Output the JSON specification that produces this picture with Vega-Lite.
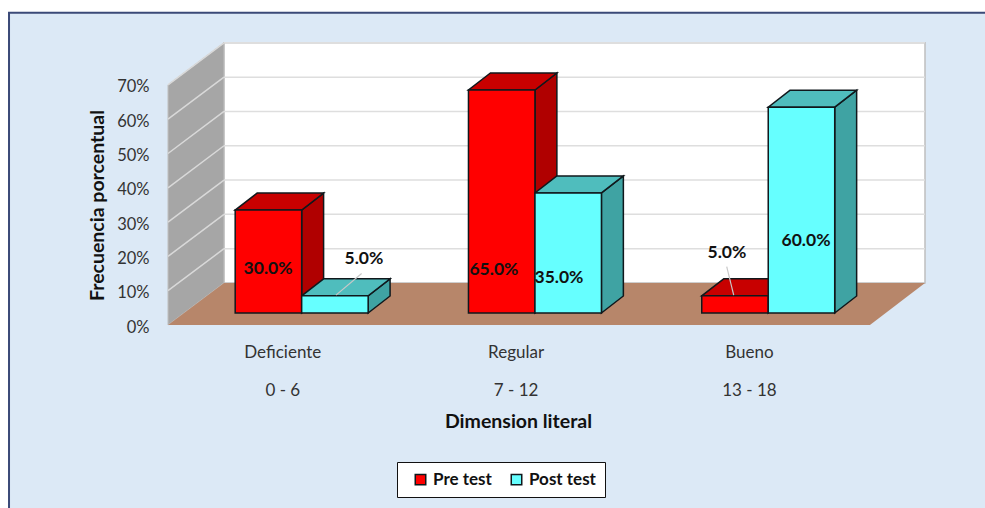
{
"$schema":"https://vega.github.io/schema/vega-lite/v6.json",
"width":757,"height":283,"autosize":"none",
"padding":{"left":168,"top":42,"right":60,"bottom":183},
"background":"#ffffff",
"datasets":{
"bars":[
{"categoria":"Deficiente","rango":"0 - 6","serie":"Pre test","valor":30},
{"categoria":"Regular","rango":"7 - 12","serie":"Pre test","valor":65},
{"categoria":"Bueno","rango":"13 - 18","serie":"Pre test","valor":5},
{"categoria":"Deficiente","rango":"0 - 6","serie":"Post test","valor":5},
{"categoria":"Regular","rango":"7 - 12","serie":"Post test","valor":35},
{"categoria":"Bueno","rango":"13 - 18","serie":"Post test","valor":60}
],
"ticks":[{"t":10},{"t":20},{"t":30},{"t":40},{"t":50},{"t":60},{"t":70}],
"one":[{"k":1}],
"ramp":[{"r":0},{"r":1}]
},
"layer":[
{"data":{"name":"one"},"mark":{"type":"rect","fill":"#DCE9F6","stroke":"#3B4A78","strokeWidth":2},
"encoding":{
"x":{"datum":-0.6815,"type":"quantitative","scale":{"domain":[0,3.245],"nice":false,"zero":false},
"axis":{"values":[0.49,1.49,2.49],"zindex":1,"domain":false,"ticks":false,"grid":false,"labelFont":"Lato","labelFontSize":17,"labelColor":"#333333","labelLineHeight":38,"labelPadding":19,"labelBaseline":"top",
"labelExpr":"datum.value<1?['Deficiente','0 - 6']:datum.value<2?['Regular','7 - 12']:['Bueno','13 - 18']",
"title":"Dimension literal","titleFont":"Lato","titleFontSize":19.5,"titleFontWeight":"bold","titleColor":"#111111","titleY":87,"titleX":350}},
"x2":{"datum":3.7},
"y":{"datum":-60,"type":"quantitative","scale":{"domain":[0,82.5],"nice":false,"zero":false},
"axis":{"values":[0,10,20,30,40,50,60,70],"zindex":1,"domain":false,"ticks":false,"grid":false,"labelFont":"Lato","labelFontSize":16.5,"labelColor":"#333333","labelPadding":19,"labelOffset":2,"labelExpr":"datum.value+'%'",
"title":"Frecuencia porcentual","titleFont":"Lato","titleFontSize":19.5,"titleFontWeight":"bold","titleColor":"#111111","titleX":-61,"titleY":163}},
"y2":{"datum":91}
}},
{"data":{"name":"one"},"mark":{"type":"rect","fill":"#ffffff","stroke":"#BFBFBF","strokeWidth":1.5},
"encoding":{"x":{"datum":0.24,"type":"quantitative"},"x2":{"datum":3.245},"y":{"datum":12.25,"type":"quantitative"},"y2":{"datum":82.25}}},
{"data":{"name":"ramp"},
"transform":[{"calculate":"0.24*datum.r","as":"xs"},{"calculate":"12.25*datum.r","as":"lo"},{"calculate":"70+12.25*datum.r","as":"hi"}],
"mark":{"type":"area","fill":"#A6A6A6","stroke":"#BFBFBF"},
"encoding":{"x":{"field":"xs","type":"quantitative"},"y":{"field":"lo","type":"quantitative"},"y2":{"field":"hi"}}},
{"data":{"name":"ticks"},
"transform":[{"calculate":"datum.t+12.25","as":"back"}],
"mark":{"type":"rule","stroke":"#D9D9D9","strokeWidth":1.5},
"encoding":{"x":{"datum":0,"type":"quantitative"},"x2":{"datum":0.24},"y":{"field":"t","type":"quantitative"},"y2":{"field":"back"}}},
{"data":{"name":"ticks"},
"transform":[{"calculate":"datum.t+12.25","as":"back"}],
"mark":{"type":"rule","stroke":"#DEDEDE","strokeWidth":1.5},
"encoding":{"x":{"datum":0.24,"type":"quantitative"},"x2":{"datum":3.245},"y":{"field":"back","type":"quantitative"}}},
{"data":{"name":"ramp"},
"transform":[{"calculate":"0.24*datum.r","as":"xa"},{"calculate":"3.009+0.236*datum.r","as":"xb"},{"calculate":"12.25*datum.r","as":"yy"}],
"mark":{"type":"area","orient":"horizontal","fill":"#B7866A"},
"encoding":{"y":{"field":"yy","type":"quantitative"},"x":{"field":"xa","type":"quantitative"},"x2":{"field":"xb"}}},
{"data":{"name":"bars"},
"transform":[
{"calculate":"indexof(['Deficiente','Regular','Bueno'],datum.categoria)+0.573-(datum.serie==='Pre test'?0.285:0)","as":"x0"},
{"calculate":"datum.serie+' lado'","as":"cara"},
{"calculate":"[0,1]","as":"r"},{"flatten":["r"]},
{"calculate":"datum.x0+0.285+0.094*datum.r","as":"xs"},
{"calculate":"3.5+4.96*datum.r","as":"lo"},
{"calculate":"3.5+datum.valor+4.96*datum.r","as":"hi"}],
"mark":{"type":"area","stroke":"#10181c","strokeWidth":1.5},
"encoding":{"x":{"field":"xs","type":"quantitative"},"y":{"field":"lo","type":"quantitative"},"y2":{"field":"hi"},"detail":{"field":"x0"},
"color":{"field":"cara","type":"nominal","scale":{"domain":["Pre test","Post test","Pre test lado","Post test lado","Pre test tapa","Post test tapa"],"range":["#FF0000","#66FFFF","#B00000","#3FA3A3","#C80000","#4FBDBD"]},
"legend":{"values":["Pre test","Post test"],"title":null,"orient":"none","direction":"horizontal","legendX":229,"legendY":420,"fillColor":"#ffffff","strokeColor":"#111111","padding":9,"symbolType":"square","symbolSize":110,"symbolStrokeColor":"#111111","symbolStrokeWidth":1.5,"symbolOpacity":1,"symbolOffset":6,"labelFont":"Lato","labelFontSize":17,"labelFontWeight":"bold","labelColor":"#111111","columnPadding":10,"labelOffset":4}}}},
{"data":{"name":"bars"},
"transform":[
{"calculate":"indexof(['Deficiente','Regular','Bueno'],datum.categoria)+0.573-(datum.serie==='Pre test'?0.285:0)","as":"x0"},
{"calculate":"datum.serie+' tapa'","as":"cara"},
{"calculate":"[0,1]","as":"r"},{"flatten":["r"]},
{"calculate":"datum.x0+0.094*datum.r","as":"xa"},
{"calculate":"datum.x0+0.285+0.094*datum.r","as":"xb"},
{"calculate":"3.5+datum.valor+4.96*datum.r","as":"yy"}],
"mark":{"type":"area","orient":"horizontal","stroke":"#10181c","strokeWidth":1.5},
"encoding":{"y":{"field":"yy","type":"quantitative"},"x":{"field":"xa","type":"quantitative"},"x2":{"field":"xb"},"detail":{"field":"x0"},
"color":{"field":"cara","type":"nominal"}}},
{"data":{"name":"bars"},
"transform":[
{"calculate":"indexof(['Deficiente','Regular','Bueno'],datum.categoria)+0.573-(datum.serie==='Pre test'?0.285:0)","as":"x0"},
{"calculate":"datum.x0+0.285","as":"x1"},
{"calculate":"3.5+datum.valor","as":"top"},{"calculate":"3.5","as":"base"},
{"calculate":"datum.serie","as":"cara"}],
"mark":{"type":"rect","stroke":"#10181c","strokeWidth":1.5},
"encoding":{"x":{"field":"x0","type":"quantitative"},"x2":{"field":"x1"},"y":{"field":"base","type":"quantitative"},"y2":{"field":"top"},
"color":{"field":"cara","type":"nominal"}}},
{"data":{"name":"bars"},
"transform":[{"filter":"datum.valor===5"},
{"calculate":"datum.serie==='Post test'?0.83:2.395","as":"lx1"},
{"calculate":"datum.serie==='Post test'?0.72:2.425","as":"lx2"},
{"calculate":"datum.serie==='Post test'?15:17","as":"ly1"},
{"calculate":"datum.serie==='Post test'?8.7:8.7","as":"ly2"}],
"mark":{"type":"rule","stroke":"#C8C8C8","strokeWidth":1.2},
"encoding":{"x":{"field":"lx1","type":"quantitative"},"x2":{"field":"lx2"},"y":{"field":"ly1","type":"quantitative"},"y2":{"field":"ly2"}}},
{"data":{"name":"bars"},
"transform":[
{"calculate":"datum.categoria+'|'+datum.serie","as":"k"},
{"calculate":"{'Deficiente|Pre test':0.429,'Deficiente|Post test':0.84,'Regular|Pre test':1.397,'Regular|Post test':1.676,'Bueno|Pre test':2.396,'Bueno|Post test':2.735}[datum.k]","as":"lx"},
{"calculate":"{'Deficiente|Pre test':16.3,'Deficiente|Post test':19.2,'Regular|Pre test':16,'Regular|Post test':13.7,'Bueno|Pre test':21,'Bueno|Post test':24.5}[datum.k]","as":"ly"},
{"calculate":"format(datum.valor,'.1f')+'%'","as":"txt"}],
"mark":{"type":"text","font":"Lato","fontSize":17.5,"fontWeight":"bold","fill":"#111111"},
"encoding":{"x":{"field":"lx","type":"quantitative"},"y":{"field":"ly","type":"quantitative"},"text":{"field":"txt"}}}
]
}
